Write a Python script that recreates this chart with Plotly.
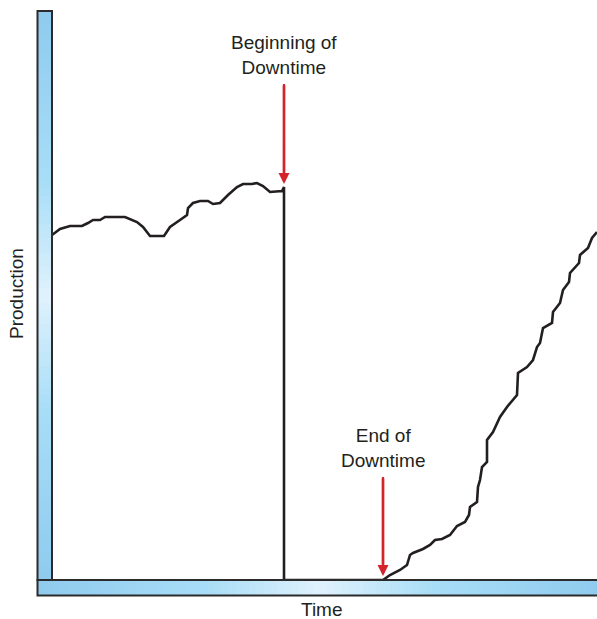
import plotly.graph_objects as go

# ---- data (time units, production units) ----
time_before = [0, 8, 18, 30, 36, 41, 48, 53, 73, 85, 91, 98, 112, 118, 128, 135, 136, 141,
               148, 156, 161, 168, 176, 185, 191, 200, 205, 211, 218, 225, 230, 232]
prod_before = [345, 351, 354, 354, 357, 360, 360, 363, 363, 358, 353, 344, 344, 353, 360, 365,
               372, 377, 379, 379, 376, 377, 385, 393, 396, 396, 397, 394, 388, 389, 389, 393]
time_down = [232, 331]
prod_down = [0, 0]
time_after = [331, 338, 348, 355, 358, 361, 371, 378, 383, 390, 398, 405, 413, 417, 418, 425,
              426, 428, 430, 435, 435, 441, 448, 455, 465, 466, 475, 481, 485, 488, 491, 500,
              501, 508, 511, 517, 518, 527, 528, 536, 540, 545]
prod_after = [1, 5, 10, 15, 25, 27, 31, 35, 40, 41, 45, 54, 58, 65, 73, 78, 93, 100, 113, 118,
              140, 148, 163, 173, 185, 207, 213, 220, 233, 237, 252, 257, 268, 277, 290, 298,
              307, 317, 325, 332, 342, 348]

downtime_start = 232
downtime_end = 331
labels = {"start": "Beginning of<br>Downtime", "end": "End of<br>Downtime"}
x_title = "Time"
y_title = "Production"

X_MAX = 545
Y_MAX = 570

TEXT_COLOR = "#231f20"
LINE_COLOR = "#231f20"
ARROW_COLOR = "#d5232c"
FONT = "Liberation Sans, Arial, sans-serif"
FS = 19

times = time_before + time_down + time_after[1:]
prods = prod_before + prod_down + prod_after[1:]

fig = go.Figure()
fig.add_trace(go.Scatter(x=times, y=prods, mode="lines",
                         line=dict(color=LINE_COLOR, width=2.6),
                         hoverinfo="skip", showlegend=False))


def interp(stops, t):
    for (p0, c0), (p1, c1) in zip(stops[:-1], stops[1:]):
        if p0 <= t <= p1:
            f = (t - p0) / (p1 - p0)
            c = [round(a + (b - a) * f) for a, b in zip(c0, c1)]
            return "rgb(%d,%d,%d)" % tuple(c)
    c = stops[-1][1]
    return "rgb(%d,%d,%d)" % tuple(c)


# ---- gradient bars (axes) ----
bar_stops = [(0.0, (0x8f, 0xcb, 0xee)), (0.3, (0xa8, 0xdd, 0xf7)), (0.5, (0xe0, 0xf2, 0xfc)),
             (0.7, (0xa8, 0xdd, 0xf7)), (1.0, (0x8f, 0xcb, 0xee))]
arrow_stops = [(0.0, (0xd5, 0x23, 0x2c)), (0.5, (0xee, 0x76, 0x6a)), (1.0, (0xd5, 0x23, 0x2c))]

W_PLOT = 545.0
H_PLOT = 570.0
shapes = []
n = 80
# horizontal bar
hx0, hx1 = -14.5 / W_PLOT, 1.01
hy0, hy1 = -15.5 / H_PLOT, 0.0
for i in range(n):
    a = hx0 + (hx1 - hx0) * i / n
    b = hx0 + (hx1 - hx0) * (i + 1) / n + 0.002
    shapes.append(dict(type="rect", xref="paper", yref="paper", x0=a, x1=b, y0=hy0, y1=hy1,
                       line=dict(width=0), fillcolor=interp(bar_stops, (i + 0.5) / n), layer="above"))
# vertical bar
vx0, vx1 = -14.5 / W_PLOT, 0.0
vy0, vy1 = 0.0, 569.0 / H_PLOT
for i in range(n):
    a = vy0 + (vy1 - vy0) * i / n
    b = vy0 + (vy1 - vy0) * (i + 1) / n + 0.002
    shapes.append(dict(type="rect", xref="paper", yref="paper", x0=vx0, x1=vx1, y0=a, y1=min(b, vy1),
                       line=dict(width=0), fillcolor=interp(bar_stops, (i + 0.5) / n), layer="above"))
shapes.append(dict(type="rect", xref="paper", yref="paper", x0=hx0, x1=hx1 + 0.02, y0=hy0, y1=hy1,
                   line=dict(color="#2b2b2b", width=2), fillcolor="rgba(0,0,0,0)", layer="above"))
shapes.append(dict(type="rect", xref="paper", yref="paper", x0=vx0, x1=vx1, y0=vy0, y1=vy1,
                   line=dict(color="#2b2b2b", width=2), fillcolor="rgba(0,0,0,0)", layer="above"))

# arrow definitions: (x, tip, tail)
arrows = [(downtime_start, prod_before[-1] + 3, 496), (downtime_end, 4, 103)]

annotations = []
for (ax_x, tip, tail), key in zip(arrows, ["start", "end"]):
    annotations.append(dict(x=ax_x, y=tail, xref="x", yref="y", text=labels[key], showarrow=False,
                            yanchor="bottom", xanchor="center", yshift=4,
                            font=dict(family=FONT, size=FS, color=TEXT_COLOR)))
    annotations.append(dict(x=ax_x, y=tip, xref="x", yref="y", ax=ax_x, ay=tail,
                            axref="x", ayref="y", text="", showarrow=True, arrowhead=2,
                            arrowsize=0.85, arrowwidth=2.6, arrowcolor=ARROW_COLOR))
    # lighter gradient in the middle of the shaft
    top = tail
    bot = tip + 12
    m = 24
    for i in range(m):
        y0 = top - (top - bot) * i / m
        y1 = top - (top - bot) * (i + 1) / m
        shapes.append(dict(type="line", xref="x", yref="y", x0=ax_x, x1=ax_x, y0=y0, y1=y1,
                           line=dict(color=interp(arrow_stops, (i + 0.5) / m), width=2.2),
                           layer="above"))

annotations += [
    dict(x=-35 / W_PLOT, y=0.5018, xref="paper", yref="paper", text=y_title, showarrow=False,
         textangle=-90, xanchor="center", yanchor="middle",
         font=dict(family=FONT, size=FS, color=TEXT_COLOR)),
    dict(x=270 / W_PLOT, y=-29 / H_PLOT, xref="paper", yref="paper", text=x_title, showarrow=False,
         xanchor="center", yanchor="middle",
         font=dict(family=FONT, size=FS, color=TEXT_COLOR)),
]

fig.update_layout(
    width=597, height=619,
    margin=dict(l=52, r=0, t=10, b=39, autoexpand=False),
    paper_bgcolor="white", plot_bgcolor="white",
    xaxis=dict(range=[0, X_MAX], visible=False, fixedrange=True),
    yaxis=dict(range=[0, Y_MAX], visible=False, fixedrange=True),
    shapes=shapes, annotations=annotations, showlegend=False,
)

fig.write_html(
    "out.html",
    config={"displayModeBar": False},
    post_script="document.body.style.margin='0';document.body.style.overflow='hidden';",
)
